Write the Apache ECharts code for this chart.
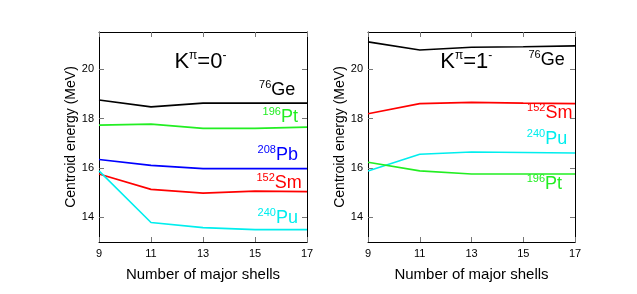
<!DOCTYPE html>
<html><head><meta charset="utf-8">
<script src="https://cdn.jsdelivr.net/npm/echarts@6/dist/echarts.min.js"></script>
<style>html,body{margin:0;padding:0;background:#fff}#c{width:637px;height:294px}</style>
</head><body><div id="c"></div>
<script>
const shells = [9, 11, 13, 15, 17];
const yTicks = [14, 16, 18, 20];
// K^pi = 0-
const k0_Ge = [18.75, 18.47, 18.62, 18.62, 18.62];
const k0_Pt = [17.73, 17.77, 17.60, 17.60, 17.65];
const k0_Pb = [16.34, 16.10, 15.97, 15.97, 15.97];
const k0_Sm = [15.75, 15.13, 14.98, 15.06, 15.04];
const k0_Pu = [15.88, 13.79, 13.58, 13.50, 13.50];
// K^pi = 1-
const k1_Ge = [21.10, 20.77, 20.88, 20.90, 20.94];
const k1_Sm = [18.19, 18.60, 18.65, 18.62, 18.60];
const k1_Pu = [15.87, 16.55, 16.64, 16.62, 16.60];
const k1_Pt = [16.23, 15.88, 15.75, 15.75, 15.75];

const colors = {Ge:'#000000', Pt:'#22ee22', Pb:'#0000ff', Sm:'#ff0000', Pu:'#00eeee'};
const FONT = 'Liberation Sans, Arial, sans-serif';

// labels: [mass, element, xData(right edge), yData(center)]
const labels0 = [['76','Ge',16.55,19.15],['196','Pt',16.65,18.07],['208','Pb',16.65,16.52],['152','Sm',16.8,15.37],['240','Pu',16.65,13.97]];
const labels1 = [['76','Ge',16.6,20.35],['152','Sm',16.9,18.23],['240','Pu',16.7,17.16],['196','Pt',16.5,15.35]];

const chart = echarts.init(document.getElementById('c'));
const grids = [
  {left:99, top:32, width:208, height:210},
  {left:368, top:32, width:207, height:210}
];
function xAx(gi, top){
  return {type:'value', gridIndex:gi, min:9, max:17, interval:2, position: top?'top':'bottom',
    name: top? '' : 'Number of major shells', nameLocation:'middle', nameGap:25,
    nameTextStyle:{fontFamily:FONT, fontSize:15, color:'#000'},
    axisLine:{show:true, lineStyle:{color:'#000', width:1}},
    axisTick:{show:true, inside:true, length:5, lineStyle:{color:'#777'}},
    axisLabel:{show:!top, fontFamily:FONT, fontSize:11, color:'#000', margin:6},
    splitLine:{show:false}};
}
function yAx(gi, right){
  return {type:'value', gridIndex:gi, min:13, max:21.5, position: right?'right':'left',
    name: right? '' : 'Centroid energy (MeV)', nameLocation:'middle', nameGap:20,
    nameTextStyle:{fontFamily:FONT, fontSize:14, color:'#000'},
    axisLine:{show:true, lineStyle:{color:'#000', width:1}},
    axisTick:{show:true, inside:true, length:5, lineStyle:{color:'#777'}, customValues: yTicks},
    axisLabel:{show:!right, fontFamily:FONT, fontSize:11, color:'#000', margin:5, customValues: yTicks},
    splitLine:{show:false}};
}
function ser(gi, data, c){
  return {type:'line', xAxisIndex: gi*2, yAxisIndex: gi*2, data: shells.map((x,i)=>[x,data[i]]),
    symbol:'none', lineStyle:{color:c, width:1.6}, silent:true, animation:false};
}
const option = {
  animation:false,
  grid: grids,
  xAxis:[xAx(0,false), xAx(0,true), xAx(1,false), xAx(1,true)],
  yAxis:[yAx(0,false), yAx(0,true), yAx(1,false), yAx(1,true)],
  series:[
    ser(0,k0_Ge,colors.Ge), ser(0,k0_Pt,colors.Pt), ser(0,k0_Pb,colors.Pb), ser(0,k0_Sm,colors.Sm), ser(0,k0_Pu,colors.Pu),
    ser(1,k1_Ge,colors.Ge), ser(1,k1_Sm,colors.Sm), ser(1,k1_Pu,colors.Pu), ser(1,k1_Pt,colors.Pt)
  ]
};
chart.setOption(option);

function rich(mass, el, c){
  return {
    type:'text',
    style:{
      text:'{s|'+mass+'}{m|'+el+'}',
      rich:{
        s:{fontFamily:FONT, fontSize:11, fill:c, padding:[0,0,10,0]},
        m:{fontFamily:FONT, fontSize:18, fill:c}
      },
      align:'right', verticalAlign:'middle'
    }
  };
}
const g = [];
function addLabels(list, gi){
  list.forEach(([mass, el, xd, yd])=>{
    const p = chart.convertToPixel({gridIndex:gi}, [xd, yd]);
    const t = rich(mass, el, colors[el]);
    t.x = p[0]; t.y = p[1];
    g.push(t);
  });
}
addLabels(labels0, 0);
addLabels(labels1, 1);
function title(gi, kv, xd, yd){
  const p = chart.convertToPixel({gridIndex:gi}, [xd, yd]);
  g.push({type:'text', x:p[0], y:p[1], style:{
    text:'{k|K}{p|π}{k|='+kv+'}{p|-}',
    rich:{k:{fontFamily:FONT, fontSize:22, fill:'#000'}, p:{fontFamily:FONT, fontSize:12, fill:'#000', padding:[0,0,12,0]}},
    align:'center', verticalAlign:'middle'}});
}
title(0,'0',12.9,20.3);
title(1,'1',12.8,20.3);
chart.setOption({graphic:g});
</script></body></html>
